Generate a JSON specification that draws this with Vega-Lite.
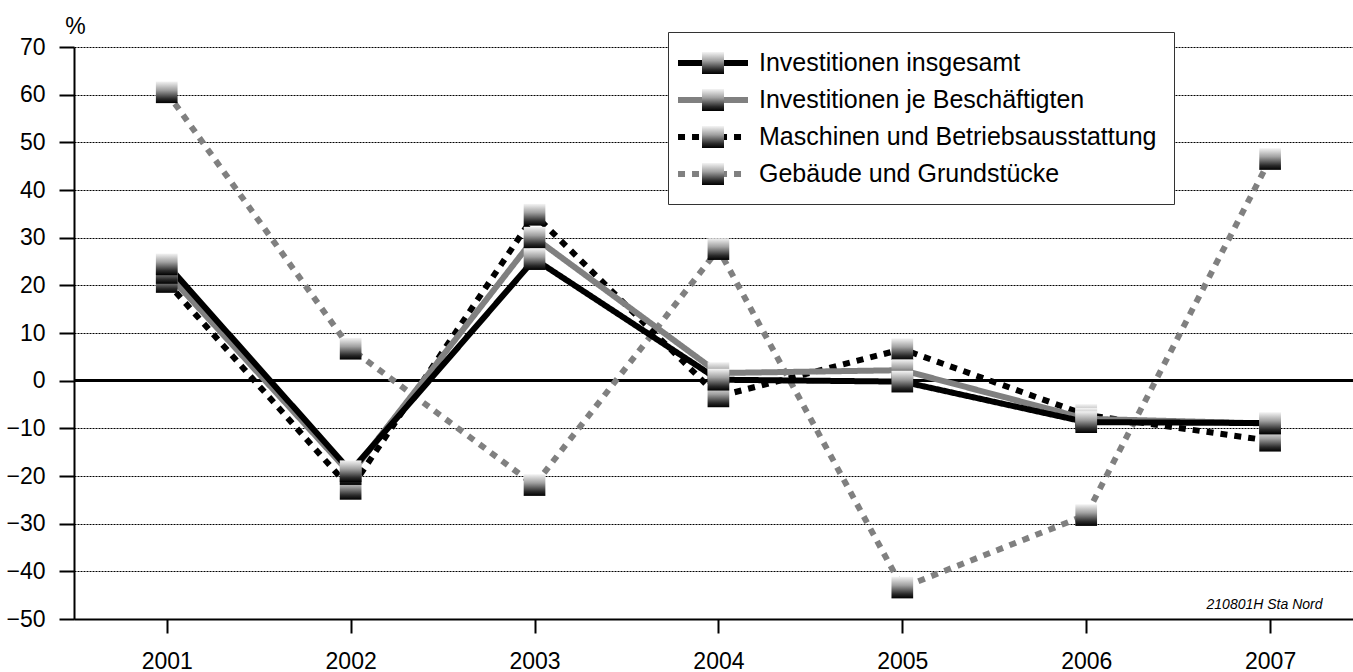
{
  "$schema": "https://vega.github.io/schema/vega-lite/v6.json",
  "width": 1279,
  "height": 572,
  "autosize": {"type": "none"},
  "padding": {"left": 74, "top": 47, "right": 0, "bottom": 53},
  "background": "white",
  "config": {"view": {"stroke": null}, "font": "Liberation Sans"},
  "data": {
    "values": [
      {"year": "2001", "series": "Gebäude und Grundstücke", "value": 60.5},
      {"year": "2002", "series": "Gebäude und Grundstücke", "value": 6.7},
      {"year": "2003", "series": "Gebäude und Grundstücke", "value": -21.9},
      {"year": "2004", "series": "Gebäude und Grundstücke", "value": 27.6},
      {"year": "2005", "series": "Gebäude und Grundstücke", "value": -43.4},
      {"year": "2006", "series": "Gebäude und Grundstücke", "value": -28.2},
      {"year": "2007", "series": "Gebäude und Grundstücke", "value": 46.5},
      {"year": "2001", "series": "Maschinen und Betriebsausstattung", "value": 20.7},
      {"year": "2002", "series": "Maschinen und Betriebsausstattung", "value": -22.7},
      {"year": "2003", "series": "Maschinen und Betriebsausstattung", "value": 34.8},
      {"year": "2004", "series": "Maschinen und Betriebsausstattung", "value": -3.3},
      {"year": "2005", "series": "Maschinen und Betriebsausstattung", "value": 6.6},
      {"year": "2006", "series": "Maschinen und Betriebsausstattung", "value": -7.2},
      {"year": "2007", "series": "Maschinen und Betriebsausstattung", "value": -12.6},
      {"year": "2001", "series": "Investitionen je Beschäftigten", "value": 22.6},
      {"year": "2002", "series": "Investitionen je Beschäftigten", "value": -19.6},
      {"year": "2003", "series": "Investitionen je Beschäftigten", "value": 30.0},
      {"year": "2004", "series": "Investitionen je Beschäftigten", "value": 1.6},
      {"year": "2005", "series": "Investitionen je Beschäftigten", "value": 2.2},
      {"year": "2006", "series": "Investitionen je Beschäftigten", "value": -8.0},
      {"year": "2007", "series": "Investitionen je Beschäftigten", "value": -9.0},
      {"year": "2001", "series": "Investitionen insgesamt", "value": 24.4},
      {"year": "2002", "series": "Investitionen insgesamt", "value": -19.0},
      {"year": "2003", "series": "Investitionen insgesamt", "value": 25.5},
      {"year": "2004", "series": "Investitionen insgesamt", "value": 0.2},
      {"year": "2005", "series": "Investitionen insgesamt", "value": -0.2},
      {"year": "2006", "series": "Investitionen insgesamt", "value": -8.7},
      {"year": "2007", "series": "Investitionen insgesamt", "value": -8.9}
    ]
  },
  "layer": [
    {
      "mark": {"type": "rule", "color": "black", "strokeWidth": 2.5},
      "encoding": {"y": {"datum": 0, "type": "quantitative"}}
    },
    {
      "mark": {"type": "line", "strokeWidth": 6, "strokeCap": "butt", "strokeJoin": "miter"},
      "encoding": {
        "x": {
          "field": "year", "type": "ordinal",
          "scale": {"type": "point", "padding": 0.4775, "align": 0.528},
          "axis": {
            "title": "210801H Sta Nord", "titleX": 1248, "titleY": -11,
            "titleAlign": "right", "titleBaseline": "alphabetic",
            "titleFontSize": 14, "titleFontStyle": "italic", "titleFontWeight": "normal",
            "titleColor": "black", "titleFont": "Liberation Sans",
            "labelAngle": 0, "labelFontSize": 23, "labelColor": "black", "labelFont": "Liberation Sans",
            "labelPadding": 17, "tickSize": 14, "tickWidth": 2, "tickColor": "black",
            "domainColor": "black", "domainWidth": 2, "grid": false
          }
        },
        "y": {
          "field": "value", "type": "quantitative",
          "scale": {"domain": [-50, 70], "nice": false, "zero": false},
          "axis": {
            "title": "%", "titleAngle": 0, "titleX": 1, "titleY": -14,
            "titleAlign": "center", "titleBaseline": "alphabetic",
            "titleFontSize": 23, "titleFontWeight": "normal", "titleColor": "black", "titleFont": "Liberation Sans",
            "values": [-50, -40, -30, -20, -10, 0, 10, 20, 30, 40, 50, 60, 70],
            "labelFontSize": 23, "labelColor": "black", "labelFont": "Liberation Sans", "labelPadding": 14,
            "tickSize": 15, "tickWidth": 2, "tickColor": "black",
            "domainColor": "black", "domainWidth": 2,
            "grid": true, "gridColor": "black", "gridDash": [2, 1], "gridWidth": 1
          }
        },
        "color": {
          "field": "series", "type": "nominal",
          "scale": {
            "domain": ["Investitionen insgesamt", "Investitionen je Beschäftigten", "Maschinen und Betriebsausstattung", "Gebäude und Grundstücke"],
            "range": ["#000000", "#808080", "#000000", "#808080"]
          },
          "legend": {
            "title": null, "orient": "none", "legendX": 594, "legendY": -15,
            "fillColor": "white", "strokeColor": "#333333", "padding": 17,
            "labelFontSize": 25, "labelFont": "Liberation Sans", "labelColor": "black", "labelLimit": 500,
            "symbolType": "M-3.18,0H3.18", "symbolSize": 484, "symbolStrokeWidth": 6,
            "symbolFillColor": "transparent",
            "symbolOffset": 14, "labelOffset": 32, "rowPadding": 10, "zindex": 0
          }
        },
        "strokeDash": {
          "field": "series", "type": "nominal",
          "scale": {
            "domain": ["Investitionen insgesamt", "Investitionen je Beschäftigten", "Maschinen und Betriebsausstattung", "Gebäude und Grundstücke"],
            "range": [[1, 0], [1, 0], [7, 7], [7, 7]]
          },
          "legend": {
            "title": null, "orient": "none", "legendX": 594, "legendY": -15,
            "fillColor": "white", "strokeColor": "#333333", "padding": 17,
            "labelFontSize": 25, "labelFont": "Liberation Sans", "labelColor": "black", "labelLimit": 500,
            "symbolType": "M-3.18,0H3.18", "symbolSize": 484, "symbolStrokeWidth": 6,
            "symbolFillColor": "transparent",
            "symbolOffset": 14, "labelOffset": 32, "rowPadding": 10, "zindex": 0
          }
        }
      }
    },
    {
      "mark": {
        "type": "point", "filled": true, "size": 470, "strokeWidth": 0, "opacity": 1,
        "fill": {
          "gradient": "linear", "x1": 0, "y1": 0, "x2": 0, "y2": 1,
          "stops": [
            {"offset": 0, "color": "#f4f4f4"},
            {"offset": 0.4, "color": "#a0a0a0"},
            {"offset": 0.8, "color": "#2a2a2a"},
            {"offset": 1, "color": "#000000"}
          ]
        }
      },
      "encoding": {
        "x": {"field": "year", "type": "ordinal"},
        "y": {"field": "value", "type": "quantitative"},
        "shape": {
          "field": "series", "type": "nominal",
          "scale": {"range": ["square", "square", "square", "square"]},
          "legend": {
            "title": null, "orient": "none", "legendX": 594, "legendY": -15,
            "padding": 17, "labelFontSize": 25, "labelExpr": "''",
            "symbolSize": 484, "symbolStrokeWidth": 6, "symbolStrokeColor": "transparent",
            "symbolOffset": 14, "labelOffset": 32, "rowPadding": -9, "zindex": 1,
            "encode": {
              "symbols": {
                "update": {
                  "fill": {"value": {
                    "gradient": "linear", "x1": 0, "y1": 0, "x2": 0, "y2": 1,
                    "stops": [
                      {"offset": 0, "color": "#f4f4f4"},
                      {"offset": 0.4, "color": "#a0a0a0"},
                      {"offset": 0.8, "color": "#2a2a2a"},
                      {"offset": 1, "color": "#000000"}
                    ]
                  }},
                  "stroke": {"value": "transparent"},
                  "opacity": {"value": 1}
                }
              }
            }
          }
        }
      }
    }
  ]
}
